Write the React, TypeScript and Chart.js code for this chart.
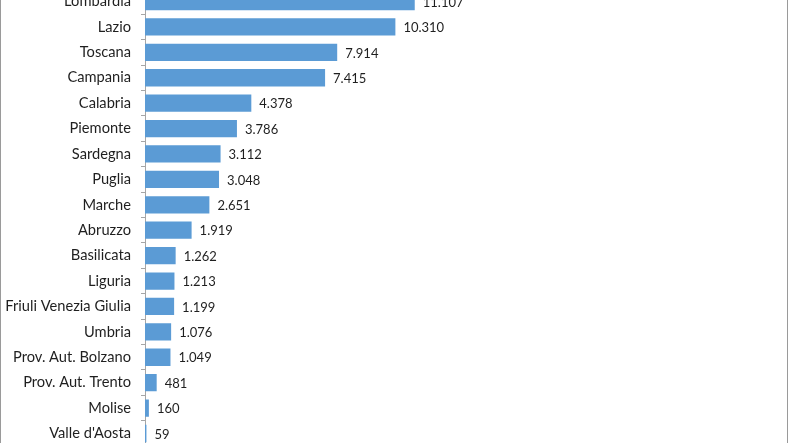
import React, { useEffect, useRef } from "react";
import { Chart, registerables } from "chart.js";

Chart.register(...registerables);

const regions = [
  "Lombardia",
  "Lazio",
  "Toscana",
  "Campania",
  "Calabria",
  "Piemonte",
  "Sardegna",
  "Puglia",
  "Marche",
  "Abruzzo",
  "Basilicata",
  "Liguria",
  "Friuli Venezia Giulia",
  "Umbria",
  "Prov. Aut. Bolzano",
  "Prov. Aut. Trento",
  "Molise",
  "Valle d'Aosta",
];

const values = [
  11107, 10310, 7914, 7415, 4378, 3786, 3112, 3048, 2651, 1919, 1262, 1213, 1199, 1076, 1049, 481, 160, 59,
];

const xMax = 14000;

const fmt = (v: number) => String(v).replace(/\B(?=(\d{3})+(?!\d))/g, ".");

const FONT = "Lato, 'Open Sans', sans-serif";

const valueLabels = {
  id: "valueLabels",
  afterDatasetsDraw(chart: any) {
    const ctx = chart.ctx;
    const meta = chart.getDatasetMeta(0);
    ctx.save();
    ctx.font = `13px ${FONT}`;
    ctx.fillStyle = "#1f1f1f";
    ctx.textAlign = "left";
    ctx.textBaseline = "middle";
    meta.data.forEach((bar: any, i: number) => {
      ctx.fillText(fmt(values[i]), bar.x + 8, bar.y + 1);
    });
    ctx.restore();
  },
};

export default function App() {
  const ref = useRef<HTMLCanvasElement | null>(null);

  useEffect(() => {
    if (!ref.current) return;
    const chart = new Chart(ref.current, {
      type: "bar",
      data: {
        labels: regions,
        datasets: [
          {
            data: values,
            backgroundColor: "#5B9BD5",
            borderWidth: 0,
            barPercentage: 0.68,
            categoryPercentage: 1,
          },
        ],
      },
      options: {
        indexAxis: "y",
        animation: false,
        responsive: false,
        maintainAspectRatio: false,
        layout: { padding: { left: 0, right: 302, top: 0, bottom: 0 } },
        plugins: {
          legend: { display: false },
          tooltip: { enabled: false },
        },
        scales: {
          x: {
            display: false,
            min: 0,
            max: xMax,
          },
          y: {
            grid: {
              display: true,
              drawOnChartArea: false,
              drawTicks: true,
              tickLength: 4,
              color: "#a6a6a6",
              offset: true,
            },
            border: { display: true, color: "#a6a6a6", width: 1 },
            ticks: {
              color: "#1f1f1f",
              font: { family: FONT, size: 14.67 },
              padding: 10,
              autoSkip: false,
            },
            afterFit(scale: any) {
              scale.width = 144;
            },
          },
        },
      },
      plugins: [valueLabels],
    });
    return () => chart.destroy();
  }, []);

  return (
    <div
      style={{
        position: "fixed",
        left: 0,
        top: 0,
        width: 788,
        height: 443,
        overflow: "hidden",
        background: "#fff",
        boxSizing: "border-box",
        borderLeft: "1px solid #9a9a9a",
        borderRight: "1px solid #9a9a9a",
      }}
    >
      <canvas
        ref={ref}
        width={786}
        height={495}
        style={{ position: "absolute", left: 0, top: -30, width: 786, height: 495 }}
      />
    </div>
  );
}
